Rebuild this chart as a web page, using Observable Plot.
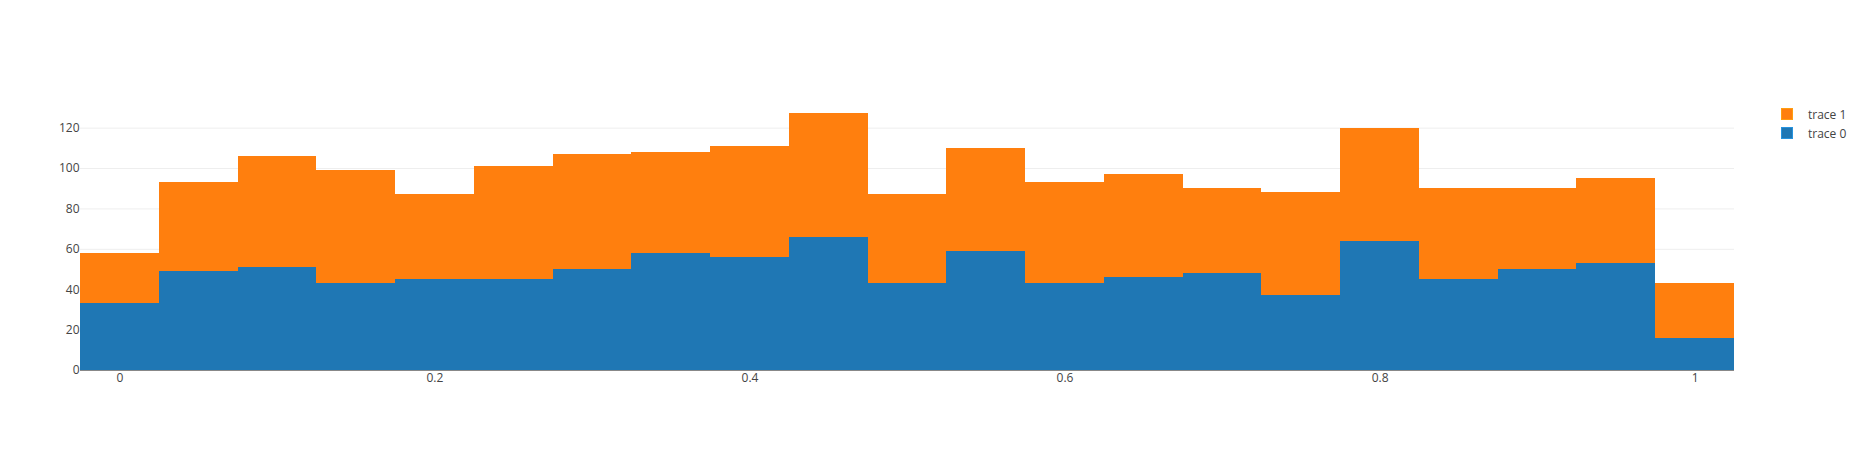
<!DOCTYPE html>
<html>
<head>
<meta charset="utf-8">
<script src="https://cdn.jsdelivr.net/npm/d3@7"></script>
<script src="https://cdn.jsdelivr.net/npm/@observablehq/plot@0.6"></script>
<style>
  html, body { margin: 0; padding: 0; background: #fff; }
  #wrap { position: relative; width: 1866px; height: 450px; }
  #legend { position: absolute; left: 1781px; top: 104.5px; font-family: 'Open Sans', sans-serif; font-size: 12px; color: #444; }
  .item { display: flex; align-items: center; height: 19px; }
  .sw { width: 12px; height: 12px; box-sizing: border-box; margin-right: 15px; }
</style>
</head>
<body>
<div id="wrap"><div id="chart"></div><div id="legend"></div></div>
<script>
const binCenters = [0, 0.05, 0.1, 0.15, 0.2, 0.25, 0.3, 0.35, 0.4, 0.45, 0.5, 0.55, 0.6, 0.65, 0.7, 0.75, 0.8, 0.85, 0.9, 0.95, 1];
const binWidth = 0.05;
const trace0 = [33, 49, 51, 43, 45, 45, 50, 58, 56, 66, 43, 59, 43, 46, 48, 37, 64, 45, 50, 53, 16];
const trace1 = [25, 44, 55, 56, 42, 56, 57, 50, 55, 61, 44, 51, 50, 51, 42, 51, 56, 45, 40, 42, 27];
const traceNames = ["trace 0", "trace 1"];
const traceColors = ["#1f77b4", "#ff7f0e"];
const xTicks = [0, 0.2, 0.4, 0.6, 0.8, 1];
const yTicks = [0, 20, 40, 60, 80, 100, 120];

const rows = [];
[trace0, trace1].forEach((vals, t) => {
  vals.forEach((v, i) => rows.push({x1: binCenters[i] - binWidth / 2, x2: binCenters[i] + binWidth / 2, count: v, trace: traceNames[t]}));
});

const chart = Plot.plot({
  width: 1866,
  height: 450,
  marginLeft: 80,
  marginRight: 132,
  marginTop: 100,
  marginBottom: 80,
  style: {fontFamily: "'Open Sans', sans-serif", fontSize: "12px", color: "#444", background: "#fff"},
  x: {domain: [-0.025, 1.025]},
  y: {domain: [0, 133.68]},
  color: {domain: traceNames, range: traceColors},
  marks: [
    Plot.gridY(yTicks, {stroke: "#eee", strokeOpacity: 1}),
    Plot.rectY(rows, {x1: "x1", x2: "x2", y: "count", fill: "trace", inset: 0, shapeRendering: "crispEdges"}),
    Plot.ruleY([0], {stroke: "#444", strokeOpacity: 0.6}),
    Plot.axisY(yTicks, {tickSize: 0, tickPadding: 1, label: null, fill: "#444", fontSize: 12}),
    Plot.axisX(xTicks, {tickSize: 0, tickPadding: 3, label: null, fill: "#444", fontSize: 12, tickFormat: d => String(d)})
  ]
});
document.getElementById("chart").appendChild(chart);

const legend = document.getElementById("legend");
[1, 0].forEach(t => {
  const item = document.createElement("div");
  item.className = "item";
  const sw = document.createElement("div");
  sw.className = "sw";
  sw.style.background = traceColors[t];
  sw.style.border = "1px solid " + d3.color(traceColors[t]).brighter(0.6).formatHex();
  const label = document.createElement("span");
  label.textContent = traceNames[t];
  item.appendChild(sw);
  item.appendChild(label);
  legend.appendChild(item);
});
</script>
</body>
</html>
